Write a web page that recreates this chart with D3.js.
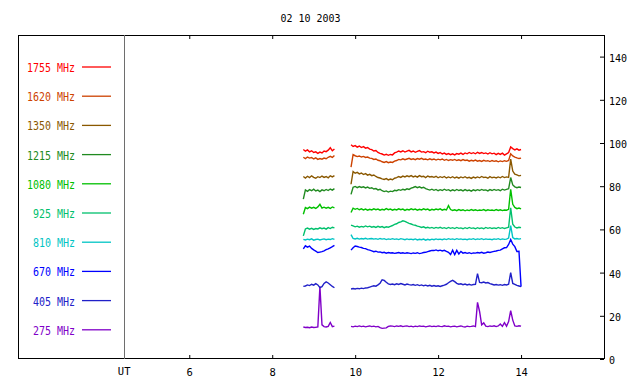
<!DOCTYPE html>
<html>
<head>
<meta charset="utf-8">
<script src="https://cdn.jsdelivr.net/npm/d3@7"></script>
<style>
body { margin: 0; background: #fff; }
</style>
</head>
<body>
<div id="chart"></div>
<script>
// UT hours of the samples; 9.70 is the data gap
var hours = [
  8.75, 8.80, 8.85, 8.90, 8.95, 9.00, 9.05, 9.10, 9.15, 9.20, 9.25, 9.30, 9.35, 9.40, 9.45, 9.50,
  9.70,
  9.90, 9.95, 10.00, 10.05, 10.10, 10.15, 10.20, 10.25, 10.30, 10.35,
  10.40, 10.45, 10.50, 10.55, 10.60, 10.65, 10.70, 10.75, 10.80, 10.85,
  10.90, 10.95, 11.00, 11.05, 11.10, 11.15, 11.20, 11.25, 11.30, 11.35,
  11.40, 11.45, 11.50, 11.55, 11.60, 11.65, 11.70, 11.75, 11.80, 11.85,
  11.90, 11.95, 12.00, 12.05, 12.10, 12.15, 12.20, 12.25, 12.30, 12.35,
  12.40, 12.45, 12.50, 12.55, 12.60, 12.65, 12.70, 12.75, 12.80, 12.85,
  12.90, 12.95, 13.00, 13.05, 13.10, 13.15, 13.20, 13.25, 13.30, 13.35,
  13.40, 13.45, 13.50, 13.55, 13.60, 13.65, 13.70, 13.75, 13.80, 13.85,
  13.90, 13.95, 14.00
];

var mhz1755 = [
  97.0, 96.2, 96.8, 95.9, 96.4, 95.6, 95.9, 95.2, 95.8, 95.4, 96.3, 96.0, 96.7, 97.8, 96.4, 97.2,
  null,
  99.2, 98.4, 98.8, 98.1, 98.6, 97.9, 98.3, 97.6, 97.9, 97.2,
  96.9, 96.3, 96.5, 95.6, 95.2, 94.9, 94.4, 94.8, 94.3, 94.7,
  94.5, 95.4, 95.8, 96.3, 95.9, 96.4, 95.8, 96.2, 96.6, 95.9,
  96.3, 95.7, 96.1, 96.5, 95.8, 96.0, 95.5, 96.2, 95.7, 95.9,
  95.4, 95.8, 95.2, 95.6, 94.9, 95.3, 94.7, 95.1, 94.6, 95.0,
  94.5, 95.1, 94.8, 95.3, 94.7, 95.4, 95.0, 95.6, 95.1, 95.5,
  95.0, 95.7, 95.2, 95.6, 95.1, 95.4, 94.9, 95.5, 95.0, 95.3,
  94.6, 95.2, 94.7, 95.3, 94.4, 95.0, 95.6, 98.2, 97.4, 96.8,
  97.3, 96.7, 97.0
];

var mhz1620 = [
  93.4, 92.8, 93.5, 93.0, 93.3, 92.6, 93.1, 92.4, 92.8, 92.5, 93.0, 92.7, 93.4, 93.8, 93.3, 94.2,
  null,
  88.8, 94.6, 94.1, 93.7, 94.0, 93.5, 93.8, 93.3, 93.5, 93.0,
  92.9, 92.4, 92.6, 92.0, 91.8, 91.3, 91.0, 91.4, 90.9, 91.2,
  91.0, 91.6, 91.9, 92.4, 92.2, 92.7, 92.3, 92.6, 92.9, 92.4,
  92.7, 92.3, 92.8, 92.5, 92.9, 92.4, 92.6, 92.2, 92.7, 92.3,
  92.6, 92.1, 92.5, 92.2, 92.6, 92.0, 92.4, 91.9, 92.3, 92.0,
  92.4, 91.9, 92.2, 91.8, 92.3, 91.9, 92.1, 91.6, 92.0, 91.7,
  92.1, 91.6, 91.9, 91.5, 92.0, 91.6, 91.8, 91.4, 91.9, 91.5,
  91.8, 91.3, 91.7, 91.4, 91.8, 91.5, 91.9, 95.0, 94.0, 93.5,
  93.1, 92.8, 93.0
];

var mhz1350 = [
  84.5, 83.8, 84.6, 84.0, 84.8, 84.1, 83.7, 84.4, 84.0, 84.7, 84.1, 84.5, 83.9, 84.8, 84.3, 84.9,
  null,
  80.9, 86.8, 86.0, 86.4, 85.7, 86.1, 85.4, 85.8, 85.1, 85.5,
  84.9, 85.2, 84.5, 84.0, 83.8, 83.4, 83.1, 83.5, 82.9, 83.3,
  83.0, 83.7, 84.0, 84.5, 84.1, 84.7, 84.3, 84.8, 84.4, 84.9,
  84.3, 84.7, 84.2, 84.9, 84.4, 84.6, 84.0, 84.7, 84.3, 84.5,
  84.1, 84.6, 83.9, 84.4, 84.0, 84.5, 83.8, 84.3, 83.9, 84.4,
  83.8, 84.2, 83.7, 84.3, 83.9, 84.4, 83.8, 84.1, 83.6, 84.2,
  83.8, 84.3, 83.9, 84.5, 84.0, 84.2, 83.7, 84.4, 83.9, 84.2,
  83.8, 84.3, 83.9, 84.5, 84.0, 84.3, 84.1, 92.5, 87.0, 85.6,
  85.2, 84.8, 85.0
];

var mhz1215 = [
  74.0, 78.3, 77.6, 78.4, 77.9, 78.6, 77.8, 78.2, 77.5, 78.3, 77.9, 78.5, 78.0, 78.7, 78.2, 78.9,
  null,
  76.2, 79.5, 79.9, 79.3, 79.8, 79.4, 79.7, 79.2, 79.6, 79.0,
  79.3, 78.7, 78.9, 78.3, 78.6, 77.9, 77.5, 77.8, 77.3, 77.7,
  77.5, 78.1, 77.9, 78.4, 78.1, 78.6, 78.3, 78.8, 78.5, 79.1,
  79.4, 79.8, 79.3, 79.7, 79.2, 79.5, 78.9, 78.5, 78.2, 78.6,
  78.1, 78.5, 77.9, 78.4, 78.0, 78.6, 78.1, 78.4, 77.8, 78.3,
  77.9, 78.5, 78.0, 78.3, 77.8, 78.4, 77.9, 78.2, 77.7, 78.3,
  77.9, 78.4, 78.0, 78.5, 78.1, 78.3, 77.8, 78.4, 78.0, 78.5,
  78.1, 78.4, 77.9, 78.6, 78.2, 78.5, 78.8, 84.0, 80.6, 79.7,
  79.3, 79.6, 79.4
];

var mhz1080 = [
  67.0, 70.1, 69.6, 70.3, 69.8, 70.2, 69.7, 70.4, 71.6, 69.9, 70.3, 69.8, 70.2, 69.7, 70.4, 70.0,
  null,
  67.8, 69.8, 69.3, 69.7, 69.1, 69.5, 69.0, 69.4, 68.9, 69.3,
  69.0, 69.5, 69.1, 69.4, 68.9, 69.3, 69.0, 69.6, 69.1, 69.4,
  68.9, 69.3, 69.0, 69.5, 69.1, 69.4, 68.8, 69.3, 69.0, 69.5,
  69.1, 69.4, 68.9, 69.3, 69.0, 69.5, 69.1, 69.4, 68.8, 69.3,
  69.0, 69.4, 69.1, 69.5, 68.9, 69.3, 69.0, 71.0, 69.2, 68.8,
  69.1, 68.7, 69.2, 68.8, 69.1, 68.6, 69.0, 68.7, 69.2, 68.8,
  69.1, 68.7, 69.0, 68.8, 69.2, 68.7, 69.1, 68.8, 69.0, 68.7,
  69.2, 68.8, 69.1, 68.7, 69.0, 68.9, 69.3, 78.5, 71.6, 70.2,
  69.6, 69.9, 69.5
];

var mhz925 = [
  57.0, 60.2, 60.6, 60.1, 60.5, 60.0, 60.4, 60.2, 60.7, 60.3, 60.6, 60.1, 60.8, 60.4, 61.0, 60.7,
  null,
  62.0, 61.6, 61.2, 61.5, 61.0, 61.4, 61.1, 61.6, 61.2, 61.5,
  61.0, 61.3, 60.9, 61.4, 61.0, 61.3, 60.8, 61.2, 61.0, 61.4,
  61.8, 62.3, 62.6, 63.2, 63.5, 64.0, 63.7, 63.2, 62.8, 62.5,
  62.1, 61.9, 61.5, 61.3, 60.9, 61.2, 60.7, 61.0, 60.6, 60.9,
  60.5, 60.9, 60.6, 61.0, 60.5, 60.8, 60.4, 60.9, 60.5, 60.8,
  60.4, 60.9, 60.5, 60.7, 60.3, 60.8, 60.4, 60.9, 60.5, 60.7,
  60.3, 60.8, 60.4, 60.7, 60.3, 60.9, 60.5, 60.8, 60.4, 60.7,
  60.4, 60.9, 60.5, 60.8, 60.4, 60.7, 61.0, 70.0, 62.4, 61.1,
  60.7, 61.0, 60.8
];

var mhz810 = [
  55.4, 55.1, 55.5, 55.2, 55.6, 55.0, 55.3, 55.5, 55.1, 55.4, 55.6, 55.2, 55.5, 55.3, 55.7, 55.4,
  null,
  57.6, 55.8, 55.6, 55.9, 55.5, 55.8, 55.6, 55.9, 55.5, 55.7,
  55.8, 55.5, 55.7, 55.4, 55.8, 55.5, 55.7, 55.3, 55.6, 55.4,
  55.7, 55.4, 55.6, 55.3, 55.7, 55.5, 55.2, 55.6, 55.3, 55.5,
  55.2, 55.6, 55.1, 55.4, 55.2, 55.5, 55.0, 55.4, 55.1, 55.5,
  55.2, 55.6, 55.3, 55.5, 55.2, 55.6, 55.3, 55.7, 55.4, 55.6,
  55.3, 55.7, 55.4, 55.6, 55.3, 55.5, 55.2, 55.6, 55.4, 55.7,
  55.3, 55.6, 55.4, 55.7, 55.3, 55.6, 55.4, 55.5, 55.2, 55.6,
  55.4, 55.7, 55.3, 55.6, 55.4, 55.5, 56.0, 61.8, 56.2, 55.6,
  55.8, 55.5, 55.7
];

var mhz670 = [
  51.0, 52.4, 51.8, 52.3, 51.2, 50.5, 49.9, 49.3, 49.5, 49.7, 50.1, 50.6, 51.0, 51.5, 52.0, 52.6,
  null,
  50.4, 51.5, 52.3, 52.1, 51.8, 51.6, 51.2, 51.1, 50.6, 50.4,
  50.1, 49.7, 49.9, 49.5, 49.6, 49.2, 49.4, 49.0, 49.3, 49.1,
  49.2, 48.9, 49.1, 49.3, 49.0, 49.2, 48.9, 49.2, 49.0, 48.8,
  49.1, 48.9, 49.2, 48.8, 49.0, 49.3, 49.4, 49.7, 50.0, 50.3,
  50.2, 50.5, 50.1, 50.4, 50.0, 50.3, 49.8, 49.4, 48.4, 50.4,
  48.3, 50.3, 48.6, 49.8, 49.0, 49.3, 48.9, 49.2, 48.8, 49.1,
  49.0, 49.3, 49.1, 49.4, 49.0, 49.2, 49.5, 49.3, 49.6, 49.8,
  50.0, 50.3, 50.4, 51.0, 51.5, 51.6, 53.0, 55.3, 53.2, 52.0,
  49.8, 49.9, 33.5
];

var mhz405 = [
  33.6, 33.8, 34.3, 34.0, 34.6, 34.2, 34.9, 34.3, 33.0, 33.5, 35.0, 35.7, 35.2, 34.4, 33.6, 33.0,
  null,
  32.4, 32.6, 32.4, 32.7, 32.5, 32.8, 32.6, 32.9, 33.0, 33.3,
  33.6, 33.9, 33.7, 34.3, 35.1, 36.7, 36.4, 35.5, 34.8, 34.5,
  34.7, 34.4, 34.8, 34.5, 34.9, 34.6, 34.3, 34.7, 34.4, 34.2,
  34.5, 34.1, 34.4, 34.0, 34.3, 33.9, 34.2, 33.8, 34.1, 33.7,
  34.0, 33.7, 33.9, 33.6, 33.9, 34.2, 34.6, 35.3, 35.9, 36.4,
  35.8, 35.0, 34.6, 34.8, 34.4, 34.7, 34.3, 34.6, 34.2, 34.5,
  34.6, 39.5, 35.5, 35.3, 35.6, 35.2, 35.4, 34.9, 34.6, 34.3,
  34.5, 34.2, 34.4, 34.1, 34.5, 34.3, 34.6, 40.0, 35.0, 34.6,
  34.1, 33.8, 33.5
];

var mhz275 = [
  14.8, 14.6, 14.7, 14.5, 14.8, 14.6, 14.7, 14.9, 33.5, 15.8, 15.0, 14.8, 15.1, 16.9, 15.0, 15.2,
  null,
  15.1, 14.9, 15.2, 15.0, 15.3, 15.0, 15.2, 14.9, 15.1, 15.3,
  15.0, 15.2, 14.9, 15.1, 14.5, 14.2, 14.3, 14.4, 15.1, 15.3,
  15.2, 15.0, 15.3, 15.1, 15.4, 15.0, 15.2, 15.3, 15.0, 15.2,
  14.9, 15.2, 15.0, 15.3, 15.1, 15.2, 14.9, 15.1, 15.3, 15.0,
  15.2, 15.0, 15.3, 15.1, 15.0, 15.4, 15.1, 15.2, 14.9, 15.1,
  15.2, 14.9, 15.1, 15.3, 15.0, 14.8, 15.2, 15.0, 15.1, 15.3,
  15.0, 26.2, 22.0, 15.8, 16.7, 15.2, 15.0, 15.3, 15.1, 15.4,
  15.0, 15.3, 16.2, 15.1, 16.8, 15.2, 17.3, 22.4, 18.0, 15.3,
  15.1, 15.4, 15.2
];

var labels = ["1755 MHz", "1620 MHz", "1350 MHz", "1215 MHz", "1080 MHz",
              "925 MHz", "810 MHz", "670 MHz", "405 MHz", "275 MHz"];
var series = [mhz1755, mhz1620, mhz1350, mhz1215, mhz1080,
              mhz925, mhz810, mhz670, mhz405, mhz275];
var colors = ["#ff0000", "#cd4200", "#8a5800", "#208a20", "#00c000",
              "#00c06c", "#00c4c4", "#0000ff", "#2020c8", "#8000c8"];
var xTicks = [6, 8, 10, 12, 14];
var yTicks = [0, 20, 40, 60, 80, 100, 120, 140];
var title = "02 10 2003";
var utHour = 4.43;

var width = 640,
    height = 384,
    plotLeft = 18,
    plotRight = 604,
    plotTop = 35,
    plotBottom = 359,
    mono = "'DejaVu Sans Mono', monospace";

var svg = d3.select("#chart")
  .append("svg")
  .attr("width", width)
  .attr("height", height)
  .style("display", "block")
  .style("background", "#fff");

var x = d3.scaleLinear().domain([1.87, 16]).range([plotLeft, plotRight]);
var y = d3.scaleLinear().domain([0, 150]).range([plotBottom, plotTop]);

// squeeze glyphs to the narrow fixed font of the original
function fit(sel, cw) {
  sel.attr("textLength", function() { return this.textContent.length * cw; })
     .attr("lengthAdjust", "spacingAndGlyphs");
}

svg.append("text")
  .attr("x", 310.5)
  .attr("y", 22)
  .attr("text-anchor", "middle")
  .style("font-family", mono)
  .style("font-size", "11px")
  .text(title)
  .call(fit, 6);

// axes
var bx = svg.append("g")
  .attr("transform", "translate(0," + plotBottom + ")")
  .call(d3.axisBottom(x).tickValues(xTicks).tickSizeInner(-4).tickSizeOuter(0));
bx.select(".domain").remove();
bx.selectAll("text").attr("y", 17).attr("dy", 0)
  .style("font-family", mono).style("font-size", "10.5px");

var tx = svg.append("g")
  .attr("transform", "translate(0," + plotTop + ")")
  .call(d3.axisTop(x).tickValues(xTicks).tickSizeInner(-4).tickSizeOuter(0).tickFormat(""));
tx.select(".domain").remove();

var ry = svg.append("g")
  .attr("transform", "translate(" + plotRight + ",0)")
  .call(d3.axisRight(y).tickValues(yTicks).tickSizeInner(-4).tickSizeOuter(0).tickPadding(5));
ry.select(".domain").remove();
ry.selectAll("text").attr("dy", "0.45em")
  .style("font-family", mono).style("font-size", "10px");

svg.selectAll(".tick line").attr("stroke", "#000");

svg.append("rect")
  .attr("x", plotLeft + 0.5)
  .attr("y", plotTop + 0.5)
  .attr("width", plotRight - plotLeft)
  .attr("height", plotBottom - plotTop - 1)
  .attr("fill", "none")
  .attr("stroke", "#000");

svg.append("line")
  .attr("x1", Math.round(x(utHour)) + 0.5)
  .attr("x2", Math.round(x(utHour)) + 0.5)
  .attr("y1", plotTop)
  .attr("y2", plotBottom)
  .attr("stroke", "#6e6e6e");

svg.append("text")
  .attr("x", x(utHour))
  .attr("y", 374.5)
  .attr("text-anchor", "middle")
  .style("font-family", mono)
  .style("font-size", "10.5px")
  .text("UT");

// legend
var legend = svg.selectAll(".legend")
  .data(labels)
  .enter()
  .append("g")
  .attr("class", "legend")
  .attr("transform", function(d, i) { return "translate(0," + (67 + i * 29.2) + ")"; });

legend.append("line")
  .attr("x1", 82)
  .attr("x2", 111)
  .attr("stroke", function(d, i) { return colors[i]; })
  .attr("stroke-width", 1.3);

legend.append("text")
  .attr("x", 75)
  .attr("y", 5)
  .attr("text-anchor", "end")
  .attr("fill", function(d, i) { return colors[i]; })
  .style("font-family", mono)
  .style("font-size", "12px")
  .text(function(d) { return d; })
  .call(fit, 6);

// traces
var line = d3.line()
  .defined(function(d) { return d[1] != null; })
  .x(function(d) { return x(d[0]); })
  .y(function(d) { return y(d[1]); });

svg.selectAll(".trace")
  .data(series.slice().reverse())
  .enter()
  .append("path")
  .attr("class", "trace")
  .attr("fill", "none")
  .attr("stroke", function(d, i) { return colors[series.length - 1 - i]; })
  .attr("stroke-width", 1.4)
  .attr("d", function(s) {
    return line(hours.map(function(h, i) { return [h, s[i]]; }));
  });
</script>
</body>
</html>
